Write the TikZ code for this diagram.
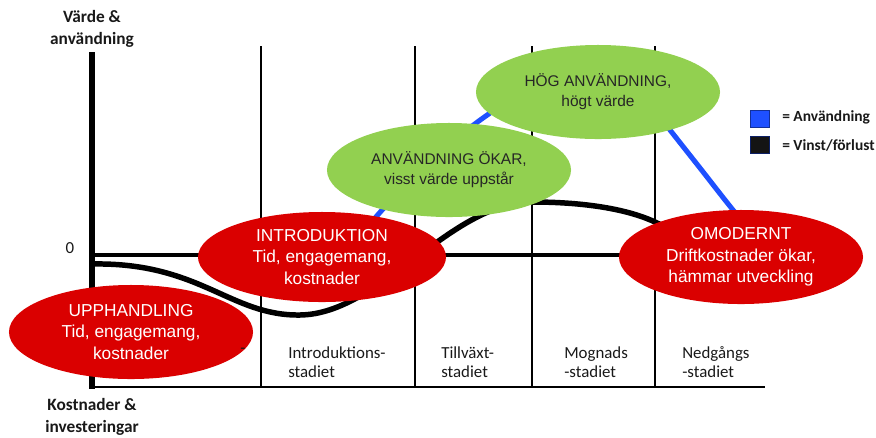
\documentclass[tikz,border=0pt]{standalone}
\usepackage{fontspec}
\setmainfont{Liberation Sans}
\newfontfamily\calibri{Carlito}
\usetikzlibrary{shapes.geometric}
\definecolor{blobred}{RGB}{218,0,0}
\definecolor{blobgreen}{RGB}{146,208,80}
\definecolor{useblue}{RGB}{30,80,255}
\tikzset{
	redblob/.style={ellipse, fill=blobred, text=white, inner sep=0pt, minimum width=6.1cm, minimum height=2.35cm, align=center, font=\fontsize{12.3}{15.3}\selectfont},
	greenblob/.style={ellipse, fill=blobgreen, text=black!85, inner sep=0pt, minimum width=6.1cm, minimum height=2.35cm, align=center, font=\fontsize{11}{14.3}\selectfont},
	stagetext/.style={anchor=west, inner sep=0pt, align=left, text=black!90, font={\calibri\fontsize{12}{13.5}\selectfont}},
	axistext/.style={inner sep=0pt, align=center, text=black!90, font={\calibri\bfseries\fontsize{12.3}{15.5}\selectfont}},
	legendbox/.style={minimum width=0.475cm, minimum height=0.425cm, inner sep=0pt, line width=0.6pt},
	legendtext/.style={anchor=west, inner sep=0pt, text=black!90, font={\calibri\bfseries\fontsize{11}{13}\selectfont}},
	stageline/.style={line width=1.4pt},
}

\begin{document}
\begin{tikzpicture}[x=0.025cm, y=-0.025cm]
			%%%%% START %%%%%
			\useasboundingbox (0,0) rectangle (876,437);
			
			% stage borders and axes
			\foreach \xs in {261,415,532,655}
				\draw[stageline] (\xs,46) -- (\xs,387);
			\draw[line width=1.8pt] (92,387) -- (765,387);
			\draw[line width=2.8pt] (92,255) -- (760,255);
			\draw[line width=4.3pt] (92,52) -- (92,389);
			
			% usage and profit curves
			\draw[useblue, line width=3.6pt] plot[smooth, tension=0.6] coordinates {(330,272) (383,209) (430,162) (483,118) (540,84) (600,70) (640,92) (670,130) (700,168) (733,210) (770,255)};
			\draw[line width=3.9pt] (92,264) .. controls (200,262) and (230,316) .. (300,315)
				.. controls (380,314) and (450,202) .. (532,202)
				.. controls (580,202) and (625,208) .. (655,222)
				.. controls (680,234) .. (700,250);
			
			% phases
			\node[redblob] (upph) at (131,332) {UPPHANDLING\\Tid, engagemang,\\kostnader};
			\node[redblob, minimum width=6.2cm, minimum height=2.25cm] (intro) at (322,257) {INTRODUKTION\\Tid, engagemang,\\kostnader};
			\node[greenblob] (okar) at (449,170) {ANVÄNDNING ÖKAR,\\visst värde uppstår};
			\node[greenblob] (hog) at (598,92) {HÖG ANVÄNDNING,\\högt värde};
			\node[redblob] (omod) at (741,257) {OMODERNT\\Driftkostnader ökar,\\hämmar utveckling};
			
			% axis texts
			\node[axistext] (vardelbl) at (92,29) {Värde \&\\användning};
			\node[axistext] (kostlbl) at (92,417) {Kostnader \&\\investeringar};
			\node[axistext, font={\calibri\fontsize{12}{13}\selectfont}] (nolla) at (70,248) {0};
			
			% stage texts
			\node[stagetext] (upphlbl) at (240,351) {-};
			\node[stagetext] (introlbl) at (288,362) {Introduktions-\\stadiet};
			\node[stagetext] (tillvlbl) at (441,362) {Tillväxt-\\stadiet};
			\node[stagetext] (mognlbl) at (564,362) {Mognads\\-stadiet};
			\node[stagetext] (nedglbl) at (682,362) {Nedgångs\\-stadiet};
			
			% legend
			\node[legendbox, draw=useblue!60!black, fill=useblue] (keyblue) at (759.5,118.5) {};
			\node[legendbox, draw=useblue!40!black, fill=black!92] (keyblack) at (759.5,145) {};
			\node[legendtext] (keybluelbl) at (782,117) {= Användning};
			\node[legendtext] (keyblacklbl) at (782,145) {= Vinst/förlust};
			
			%%%%% END %%%%%
\end{tikzpicture}
\end{document}
